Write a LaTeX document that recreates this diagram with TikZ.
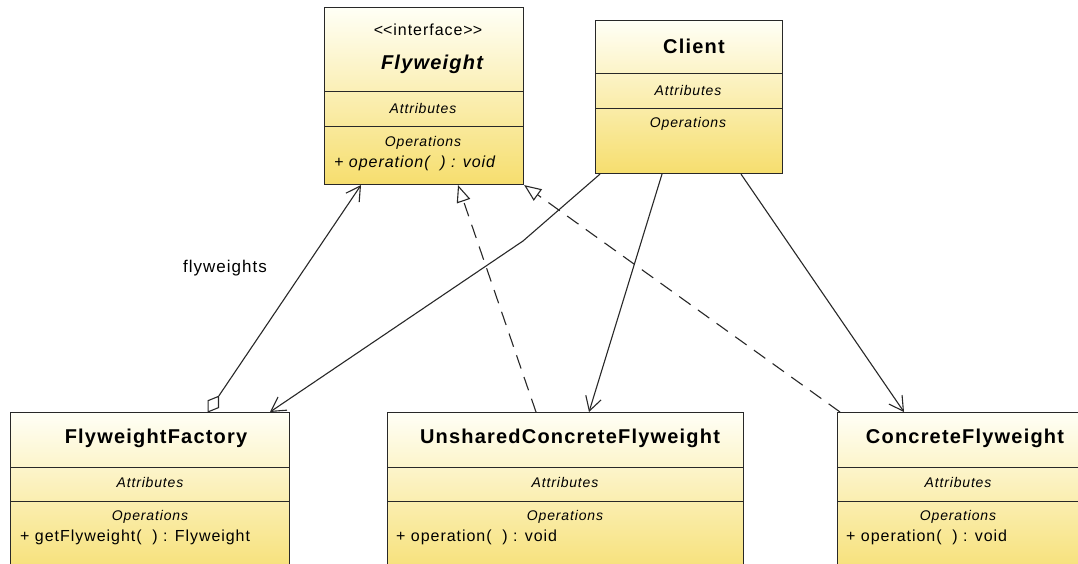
\documentclass[tikz,border=0pt]{standalone}
\usepackage{fontspec}
\setmainfont[LetterSpace=6]{Liberation Sans}
\usetikzlibrary{arrows.meta,calc,shapes.geometric}
\definecolor{boxtop}{RGB}{255,255,246}
\definecolor{boxbot}{RGB}{246,222,110}
\definecolor{linec}{RGB}{40,40,40}
\tikzset{
  umlbox/.style={draw=linec, line width=1.1pt, top color=boxtop, bottom color=boxbot, anchor=north west, inner sep=0pt},
  divider/.style={draw=linec, line width=1pt},
  titletxt/.style={font=\fontsize{20}{24}\selectfont\bfseries, inner sep=0pt},
  comptxt/.style={font=\fontsize{14}{16}\selectfont\itshape, inner sep=0pt},
  membertxt/.style={font=\fontsize{16}{19}\selectfont, inner sep=0pt, anchor=west},
  assoc/.style={draw=linec, line width=1.1pt, arrows={-Straight Barb[length=14pt,width=16pt]}},
  realize/.style={draw=linec, line width=1.1pt, dash pattern=on 14pt off 9pt, arrows={-Triangle[open,length=17pt,width=14pt,fill=white]}},
  diam/.style={diamond, draw=linec, fill=white, line width=1.1pt, inner sep=0pt, minimum width=19pt, minimum height=13pt},
  lbl/.style={font=\fontsize{17}{20}\selectfont, inner sep=0pt}
}
\begin{document}
\begin{tikzpicture}[x=1pt,y=-1pt]
\clip (0,0) rectangle (1078,564);
\fill[white] (0,0) rectangle (1078,564);

% ---------- Flyweight interface ----------
\node[umlbox, minimum width=199pt, minimum height=177pt] (fw) at (324,7) {};
\draw[divider] ($(fw.north west)+(0,85)$) -- ($(fw.north east)+(0,85)$);
\draw[divider] ($(fw.north west)+(0,120)$) -- ($(fw.north east)+(0,120)$);
\node[font=\fontsize{16}{19}\selectfont, inner sep=0pt] (fwst) at (428,30) {<\kern0pt<interface>\kern0pt>};
\node[titletxt, font=\fontsize{20}{24}\selectfont\bfseries\itshape] (fwname) at (432,64) {Flyweight};
\node[comptxt] (fwattr) at (423,108) {Attributes};
\node[comptxt] (fwops) at (423,143) {Operations};
\node[membertxt, font=\fontsize{16}{19}\selectfont\itshape] (fwop) at (334,163) {+ operation(~~) : void};

% ---------- Client ----------
\node[umlbox, minimum width=187pt, minimum height=153pt] (cl) at (595,20) {};
\draw[divider] ($(cl.north west)+(0,54)$) -- ($(cl.north east)+(0,54)$);
\draw[divider] ($(cl.north west)+(0,89)$) -- ($(cl.north east)+(0,89)$);
\node[titletxt] (clname) at (694,46) {Client};
\node[comptxt] (clattr) at (688,90) {Attributes};
\node[comptxt] (clops) at (688,124) {Operations};

% ---------- FlyweightFactory ----------
\node[umlbox, minimum width=279pt, minimum height=172pt] (ff) at (10,412) {};
\draw[divider] ($(ff.north west)+(0,55)$) -- ($(ff.north east)+(0,55)$);
\draw[divider] ($(ff.north west)+(0,89)$) -- ($(ff.north east)+(0,89)$);
\node[titletxt] (ffname) at (156,438) {FlyweightFactory};
\node[comptxt] (ffattr) at (150,482) {Attributes};
\node[comptxt] (ffops) at (150,517) {Operations};
\node[membertxt] (ffop) at (20,537) {+ getFlyweight(~~) : Flyweight};

% ---------- UnsharedConcreteFlyweight ----------
\node[umlbox, minimum width=356pt, minimum height=172pt] (uc) at (387,412) {};
\draw[divider] ($(uc.north west)+(0,55)$) -- ($(uc.north east)+(0,55)$);
\draw[divider] ($(uc.north west)+(0,89)$) -- ($(uc.north east)+(0,89)$);
\node[titletxt] (ucname) at (570,438) {UnsharedConcreteFlyweight};
\node[comptxt] (ucattr) at (565,482) {Attributes};
\node[comptxt] (ucops) at (565,517) {Operations};
\node[membertxt] (ucop) at (396,537) {+ operation(~~) : void};

% ---------- ConcreteFlyweight ----------
\node[umlbox, minimum width=243pt, minimum height=172pt] (cf) at (837,412) {};
\draw[divider] ($(cf.north west)+(0,55)$) -- ($(cf.north east)+(0,55)$);
\draw[divider] ($(cf.north west)+(0,89)$) -- ($(cf.north east)+(0,89)$);
\node[titletxt] (cfname) at (965,438) {ConcreteFlyweight};
\node[comptxt] (cfattr) at (958,482) {Attributes};
\node[comptxt] (cfops) at (958,517) {Operations};
\node[membertxt] (cfop) at (846,537) {+ operation(~~) : void};

% ---------- connector end points ----------
\coordinate (fwA) at ($(fw.south west)+(37,0)$);
\coordinate (fwB) at ($(fw.south west)+(134,0)$);
\coordinate (fwC) at (fw.south east);
\coordinate (ffA) at ($(ff.north west)+(198,0)$);
\coordinate (ffB) at ($(ff.north west)+(260,0)$);
\coordinate (clA) at ($(cl.south west)+(5,0)$);
\coordinate (clB) at ($(cl.south west)+(67,0)$);
\coordinate (clC) at ($(cl.south west)+(146,0)$);
\coordinate (bend) at (523,241);
\coordinate (ucA) at ($(uc.north west)+(149,0)$);
\coordinate (ucB) at ($(uc.north west)+(202,0)$);
\coordinate (cfA) at ($(cf.north west)+(3,0)$);
\coordinate (cfB) at ($(cf.north west)+(67,0)$);

% ---------- connectors ----------
\node[diam, rotate=56.1] (dia) at ($(ffA)!9.5pt!(fwA)$) {};
\draw[assoc] (dia.east) -- (fwA);
\node[lbl] (flw) at (225,268) {flyweights};
\draw[assoc] (clA) -- (bend) -- (ffB);
\draw[assoc] (clB) -- (ucB);
\draw[assoc] (clC) -- (cfB);
\draw[realize] (ucA) -- (fwB);
\draw[realize] (cfA) -- (fwC);
\end{tikzpicture}
\end{document}
